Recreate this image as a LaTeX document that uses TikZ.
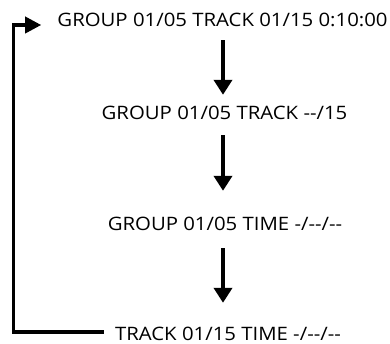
\documentclass[tikz,border=0pt]{standalone}
\usepackage{fontspec}
\setmainfont{Open Sans}[FakeStretch=1.1]
\usetikzlibrary{arrows.meta, positioning}

\begin{document}
\begin{tikzpicture}[x=1pt, y=1pt,
    modeline/.style={anchor=base, inner sep=0pt, text height=13pt, text depth=0pt,
                     font=\fontsize{18.5}{22}\selectfont},
    flowarrow/.style={line width=4pt, -{Triangle[length=15pt,width=18pt]}},
    loopline/.style={line width=3.5pt, -{Triangle[length=16pt,width=16pt]}}]
  \useasboundingbox (0,0) rectangle (390,343);
  % display pages
  \node[modeline] (grptrk)   at (222.5,316) {GROUP 01/05 TRACK 01/15 0:10:00};
  \node[modeline] (grpnotrk) at (224.5,223) {GROUP 01/05 TRACK -{}-/15};
  \node[modeline] (grptime)  at (225,113) {GROUP 01/05 TIME -/-{}-/-{}-};
  \node[modeline] (trktime)  at (228,3)   {TRACK 01/15 TIME -/-{}-/-{}-};
  \coordinate (loopx) at (13.5,0);
  % steps
  \draw[flowarrow, shorten <=13pt, shorten >=12pt] (grptrk.south -| 223,0) -- (grpnotrk.north -| 223,0);
  \draw[flowarrow, shorten <=15pt, shorten >=26pt] (grpnotrk.south -| 223,0) -- (grptime.north -| 223,0);
  \draw[flowarrow, shorten <=18pt, shorten >=24pt] (grptime.south -| 223,0) -- (trktime.north -| 223,0);
  % back to the first page
  \draw[loopline, shorten <=11pt, shorten >=16pt]
    ([yshift=1.5pt]trktime.west) -- ([yshift=1.5pt]trktime.west -| loopx)
    |- ([yshift=-4.5pt]grptrk.west);
\end{tikzpicture}
\end{document}
